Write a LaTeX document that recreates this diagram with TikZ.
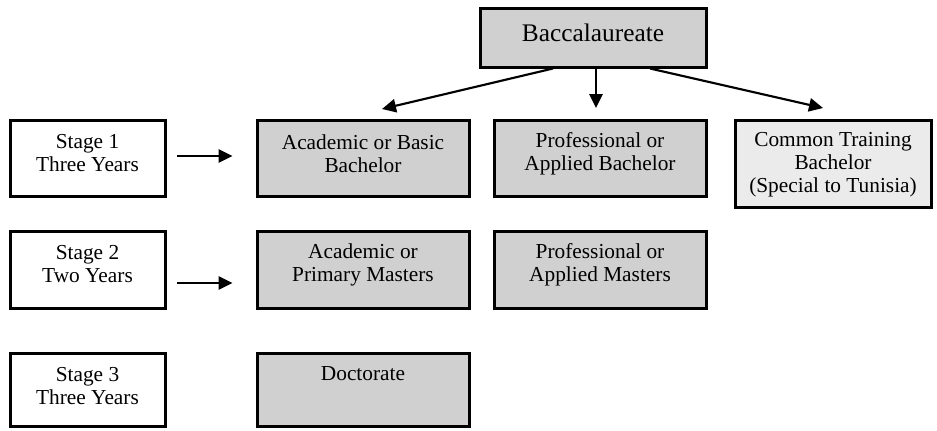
\documentclass[tikz,border=0pt]{standalone}
\usepackage{fontspec}
\setmainfont{Liberation Serif}
\usetikzlibrary{arrows.meta,calc}
\definecolor{boxgray}{RGB}{208,208,208}
\definecolor{boxlight}{RGB}{235,235,235}
\begin{document}
\begin{tikzpicture}[x=0.75pt,y=-0.75pt,
  frame/.style={draw=black, line width=2.25pt, inner sep=0pt, rectangle},
  dark/.style={frame, fill=boxgray},
  light/.style={frame, fill=boxlight},
  plain/.style={frame, fill=white},
  txt/.style={inner sep=0pt, align=center, font=\fontsize{16}{17.25}\selectfont},
  arr/.style={line width=1.6pt, -{Triangle[length=10.5pt,width=10pt]}}]
\useasboundingbox (0,0) rectangle (937,430);
% boxes
\node[dark, minimum width=169.5pt, minimum height=44.25pt] (bacc) at (593,37.5) {};
\node[plain, minimum width=116.25pt, minimum height=57pt] (s1) at (87.5,158) {};
\node[dark, minimum width=159pt, minimum height=57pt] (ab) at (363,158) {};
\node[dark, minimum width=159pt, minimum height=57pt] (pb) at (600,158) {};
\node[light, minimum width=147pt, minimum height=65.25pt] (cb) at (833,163.5) {};
\node[plain, minimum width=116.25pt, minimum height=57.75pt] (s2) at (87.5,269.5) {};
\node[dark, minimum width=159pt, minimum height=57.75pt] (am) at (363,269.5) {};
\node[dark, minimum width=159pt, minimum height=57.75pt] (pm) at (600,269.5) {};
\node[plain, minimum width=116.25pt, minimum height=54.75pt] (s3) at (87.5,389.5) {};
\node[dark, minimum width=159pt, minimum height=54.75pt] (doc) at (363,389.5) {};
% texts
\node[inner sep=0pt, font=\fontsize{19}{22}\selectfont] (bacct) at (593,33) {Baccalaureate};
\node[txt] (s1t) at (87.5,153.5) {Stage 1\\Three Years};
\node[txt] (abt) at (363,153.5) {Academic or Basic\\Bachelor};
\node[txt] (pbt) at (600,153.5) {Professional or\\Applied Bachelor};
\node[txt] (cbt) at (833,165) {Common Training\\Bachelor\\(Special to Tunisia)};
\node[txt] (s2t) at (87.5,264.5) {Stage 2\\Two Years};
\node[txt] (amt) at (363,264.5) {Academic or\\Primary Masters};
\node[txt] (pmt) at (600,264.5) {Professional or\\Applied Masters};
\node[txt] (s3t) at (87.5,386.5) {Stage 3\\Three Years};
\node[txt] (doct) at (363,374) {Doctorate};
% arrow tips
\coordinate (tipL) at (382,109);
\coordinate (tipM) at (596,108);
\coordinate (tipR) at (823,108);
% arrows
\draw[arr] ($(bacc.south)+(-40,0)$) -- (tipL);
\draw[arr] ($(bacc.south)+(3,0)$) -- (tipM);
\draw[arr] ($(bacc.south)+(57,0)$) -- (tipR);
\draw[arr] ($(s1.east)+(10,-2)$) -- ($(ab.west)+(-23,-2)$);
\draw[arr] ($(s2.east)+(10,13.5)$) -- ($(am.west)+(-23,13.5)$);
\end{tikzpicture}
\end{document}
